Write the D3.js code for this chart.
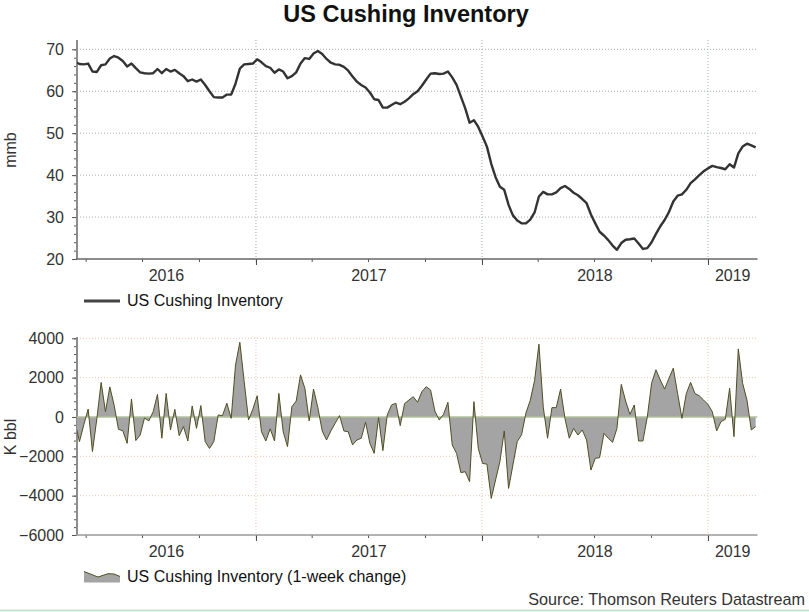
<!DOCTYPE html>
<html lang="en">
<head>
<meta charset="utf-8">
<title>US Cushing Inventory</title>
<script src="https://d3js.org/d3.v7.min.js"></script>
<style>
  body { margin: 0; background: #fff; }
  text { font-family: "Liberation Sans", Arial, sans-serif; }
</style>
</head>
<body>
<script>
// size of the picture
var w = 809, h = 612;

// weekly dates: first report and visible range
var firstWeek = "2016-03-15";
var xStart = "2016-03-18", xEnd = "2019-03-22";
var yearStarts = ["2016-01-01", "2017-01-01", "2018-01-01", "2019-01-01", "2020-01-01"];
var yearLabels = ["2016", "2017", "2018", "2019"];

// tick values
var levelTicks = [20, 30, 40, 50, 60, 70];
var changeTicks = [-6000, -4000, -2000, 0, 2000, 4000];

// US Cushing inventory, mmb (weekly)
var inventory = [
  67.0, 66.5, 66.4, 66.6, 64.7, 64.6, 66.2, 66.4, 67.8, 68.4,
  68.0, 67.2, 65.9, 66.6, 65.5, 64.5, 64.3, 64.2, 64.3, 65.3,
  64.3, 65.3, 64.7, 65.1, 64.3, 63.6, 62.4, 62.8, 62.3, 62.8,
  61.5, 60.0, 58.6, 58.5, 58.5, 59.2, 59.2, 61.8, 65.4, 66.4,
  66.5, 66.6, 67.6, 66.9, 66.0, 65.6, 64.4, 65.2, 64.7, 63.1,
  63.6, 64.5, 66.6, 67.9, 67.7, 69.0, 69.6, 68.9, 67.7, 66.8,
  66.4, 66.3, 65.8, 64.9, 63.5, 62.3, 61.5, 60.9, 59.7, 58.1,
  57.9, 56.1, 56.1, 56.7, 57.3, 56.9, 57.5, 58.3, 59.3, 60.0,
  61.3, 62.8, 64.2, 64.3, 64.1, 64.2, 64.7, 63.3, 61.5, 58.7,
  55.9, 52.5, 53.1, 51.5, 49.2, 46.8, 42.7, 39.5, 37.2, 36.5,
  32.9, 30.4, 29.2, 28.5, 28.5, 29.4, 31.1, 34.9, 36.0, 35.4,
  35.4, 35.9, 36.9, 37.4, 36.7, 35.8, 35.2, 34.3, 33.3, 30.6,
  28.5, 26.5, 25.6, 24.5, 23.2, 22.2, 23.8, 24.6, 24.7, 24.9,
  23.7, 22.4, 22.6, 24.0, 26.0, 27.8, 29.3, 31.2, 33.7, 35.1,
  35.4, 36.5, 38.1, 39.0, 40.0, 40.9, 41.6, 42.2, 41.9, 41.7,
  41.4, 42.6, 41.8, 45.2, 46.8, 47.5, 47.1, 46.6
];

// 1-week change, K bbl
var weeklyChange = [
  -300, -1250, -400, 400, -1760, -100, 1760, 270, 1530, 600,
  -630, -700, -1340, 915, -1200, -920, -50, -200, 270, 1150,
  -1080, 1200, -660, 390, -950, -490, -1220, 560, -580, 580,
  -1250, -1600, -1250, 100, 70, 700, -70, 2640, 3800, 1800,
  -150, 400, 1080, -750, -1220, -600, -1220, 1200, -750, -1510,
  525, 810, 2140, 1460, -200, 1420, 475, -710, -1170, -710,
  -320, 70, -710, -750, -1420, -1170, -1085, -270, -1340, -1850,
  -30, -1710, 100, 610, 700, -440, 680, 860, 1030, 750,
  1290, 1540, 1370, 300, -150, 135, 750, -1420, -1850, -2830,
  -2780, -3290, 780, -1590, -2360, -2400, -4140, -3200, -2270, -710,
  -3630, -2440, -1250, -900, 200, 850, 1850, 3700, 500, -1080,
  475, 475, 1420, -70, -1080, -580, -920, -660, -1170, -2700,
  -2100, -2070, -830, -1080, -1290, -580, 1660, 810, 135, 610,
  -1220, -1220, 0, 1720, 2400, 1880, 1420, 1970, 2480, 1190,
  -70, 1190, 1760, 1190, 1080, 860, 640, 270, -710, -240,
  -120, 1460, -1000, 3460, 1710, 860, -660, -490
];

var parse = d3.timeParse("%Y-%m-%d");
var weeks = d3.range(inventory.length).map(function(i) {
  return d3.timeDay.offset(parse(firstWeek), 7 * i);
});
var years = yearStarts.map(parse);
var x0 = parse(xStart), x1 = parse(xEnd);

var plotL = 77, plotR = 757.5;
var xScale = d3.scaleTime().domain([x0, x1]).range([plotL, plotR]);

var top1 = 40, bot1 = 259;
var yLevel = d3.scaleLinear().domain([20, 70]).range([bot1, 49.3]);
var top2 = 337, bot2 = 535;
var yChange = d3.scaleLinear().domain([-6000, 4000]).range([bot2, 338.3]);

var svg = d3.select("body").append("svg")
  .attr("width", w).attr("height", h);

svg.append("rect").attr("width", w).attr("height", h).attr("fill", "#fff");

// clip paths
var defs = svg.append("defs");
defs.append("clipPath").attr("id", "clip1").append("rect")
  .attr("x", plotL).attr("y", top1).attr("width", plotR - plotL).attr("height", bot1 - top1);
defs.append("clipPath").attr("id", "clip2").append("rect")
  .attr("x", plotL).attr("y", top2).attr("width", plotR - plotL).attr("height", bot2 - top2);

// title
svg.append("text")
  .attr("x", 406).attr("y", 22)
  .attr("text-anchor", "middle")
  .attr("font-size", "23.5px").attr("font-weight", "bold")
  .attr("fill", "#111")
  .text("US Cushing Inventory");

function yearMid(i) {
  var a = years[i] < x0 ? x0 : years[i];
  var b = years[i + 1] > x1 ? x1 : years[i + 1];
  return (xScale(a) + xScale(b)) / 2;
}

function drawFrame(yScale, top, bot, ticks, minorStep, gridColor, axisColor, label, labelY) {
  var g = svg.append("g");

  // grid lines
  g.selectAll(".hgrid")
    .data(ticks.filter(function(t) { return yScale(t) < bot - 1 && t !== 0; }))
    .enter().append("line")
    .attr("x1", plotL).attr("x2", plotR)
    .attr("y1", function(d) { return yScale(d); })
    .attr("y2", function(d) { return yScale(d); })
    .attr("stroke", gridColor).attr("stroke-width", 1)
    .attr("stroke-dasharray", "1,2");

  g.selectAll(".vgrid")
    .data(years.filter(function(d) { return d > x0 && d < x1; }))
    .enter().append("line")
    .attr("x1", function(d) { return xScale(d); })
    .attr("x2", function(d) { return xScale(d); })
    .attr("y1", top).attr("y2", bot)
    .attr("stroke", gridColor).attr("stroke-width", 1)
    .attr("stroke-dasharray", "1,2");

  // y axis, minor + major ticks
  var d0 = yScale.domain();
  g.append("g").attr("transform", "translate(" + plotL + ",0)")
    .call(d3.axisLeft(yScale).tickValues(d3.range(d0[0], d0[1] + 1, minorStep))
      .tickSize(3).tickFormat(""))
    .call(function(s) { s.select(".domain").remove(); s.selectAll("line").attr("stroke", "#555"); });

  g.append("g").attr("transform", "translate(" + plotL + ",0)")
    .call(d3.axisLeft(yScale).tickValues(ticks).tickSize(5).tickPadding(8)
      .tickFormat(d3.format("d")))
    .call(function(s) {
      s.select(".domain").remove();
      s.selectAll("line").attr("stroke", "#555");
      s.selectAll("text").attr("font-size", "16px").attr("fill", "#333")
        .attr("font-family", "'Liberation Sans', Arial, sans-serif");
    });

  g.append("line")
    .attr("x1", plotL).attr("x2", plotL).attr("y1", top).attr("y2", bot)
    .attr("stroke", "#8c8c8c").attr("stroke-width", 2);

  // x axis, quarter ticks + year ticks
  g.append("g").attr("transform", "translate(0," + bot + ")")
    .call(d3.axisBottom(xScale).ticks(d3.timeMonth.every(3)).tickSize(3).tickFormat(""))
    .call(function(s) { s.select(".domain").remove(); s.selectAll("line").attr("stroke", "#555"); });

  g.append("g").attr("transform", "translate(0," + bot + ")")
    .call(d3.axisBottom(xScale).tickValues(years.filter(function(d) { return d > x0 && d < x1; }))
      .tickSize(6).tickFormat(""))
    .call(function(s) { s.select(".domain").remove(); s.selectAll("line").attr("stroke", "#444"); });

  g.append("line")
    .attr("x1", plotL - 1).attr("x2", plotR).attr("y1", bot).attr("y2", bot)
    .attr("stroke", axisColor).attr("stroke-width", 1.5);

  g.selectAll(".yl")
    .data(yearLabels)
    .enter().append("text")
    .attr("x", function(d, i) { return yearMid(i); })
    .attr("y", bot + 22)
    .attr("text-anchor", "middle")
    .attr("font-size", "16px").attr("fill", "#333")
    .text(function(d) { return d; });

  g.append("text")
    .attr("transform", "translate(16," + labelY + ") rotate(-90)")
    .attr("text-anchor", "middle")
    .attr("font-size", "16px").attr("fill", "#333")
    .text(label);
}

drawFrame(yLevel, top1, bot1, levelTicks, 2, "#a2b0a2", "#666", "mmb", 150);
drawFrame(yChange, top2, bot2, changeTicks, 400, "#eec4b4", "#999", "K bbl", 437);

// top panel: inventory line
var line = d3.line()
  .x(function(d, i) { return xScale(weeks[i]); })
  .y(function(d) { return yLevel(d); });

svg.append("path")
  .datum(inventory)
  .attr("clip-path", "url(#clip1)")
  .attr("d", line)
  .attr("fill", "none")
  .attr("stroke", "#333")
  .attr("stroke-width", 2.4)
  .attr("stroke-linejoin", "round");

// bottom panel: weekly change area
var area = d3.area()
  .x(function(d, i) { return xScale(weeks[i]); })
  .y0(yChange(0))
  .y1(function(d) { return yChange(d); });

var edge = d3.line()
  .x(function(d, i) { return xScale(weeks[i]); })
  .y(function(d) { return yChange(d); });

var g2 = svg.append("g").attr("clip-path", "url(#clip2)");
g2.append("path").datum(weeklyChange).attr("d", area)
  .attr("fill", "#a4a4a4");
g2.append("line")
  .attr("x1", plotL).attr("x2", plotR)
  .attr("y1", yChange(0)).attr("y2", yChange(0))
  .attr("stroke", "#b2bf9c").attr("stroke-width", 1.5);
g2.append("path").datum(weeklyChange).attr("d", edge)
  .attr("fill", "none").attr("stroke", "#4e4e22").attr("stroke-width", 1);

// legends
svg.append("line")
  .attr("x1", 84).attr("x2", 120).attr("y1", 301).attr("y2", 301)
  .attr("stroke", "#444").attr("stroke-width", 3);
svg.append("text")
  .attr("x", 127).attr("y", 306)
  .attr("font-size", "16px").attr("fill", "#111")
  .text("US Cushing Inventory");

var iconTop = [[84, 571.5], [98, 577], [108, 573.7], [114, 574], [120, 576.5]];
svg.append("path")
  .attr("d", d3.line()(iconTop.concat([[120, 582.5], [84, 582.5]])) + "Z")
  .attr("fill", "#a4a4a4");
svg.append("path")
  .attr("d", d3.line()(iconTop))
  .attr("fill", "none").attr("stroke", "#4e4e22").attr("stroke-width", 1);
svg.append("text")
  .attr("x", 127).attr("y", 582)
  .attr("font-size", "16px").attr("fill", "#111")
  .text("US Cushing Inventory (1-week change)");

// source
svg.append("text")
  .attr("x", 805).attr("y", 605)
  .attr("text-anchor", "end")
  .attr("font-size", "16.2px").attr("fill", "#333")
  .text("Source: Thomson Reuters Datastream");

svg.append("line")
  .attr("x1", 0).attr("x2", w).attr("y1", 610.5).attr("y2", 610.5)
  .attr("stroke", "#bfe6cf").attr("stroke-width", 2);
</script>
</body>
</html>
